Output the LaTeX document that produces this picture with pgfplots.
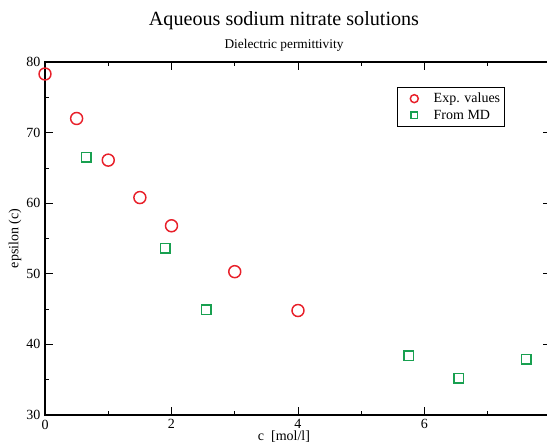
\documentclass[border=0pt]{standalone}
\usepackage{fontspec}
\setmainfont{Liberation Serif}
\usepackage{pgfplots}
\pgfplotsset{compat=1.18}
\definecolor{expred}{RGB}{232,32,42}
\definecolor{mdgreen}{RGB}{24,160,80}
\begin{document}
\begin{tikzpicture}
\begin{axis}[
  scale only axis,
  width=379.5pt, height=264.75pt,
  xmin=0, xmax=8, ymin=30, ymax=80,
  xtick={0,2,4,6,8}, minor x tick num=1,
  ytick={30,40,...,80}, minor y tick num=1,
  tick align=inside,
  major tick length=6pt, minor tick length=3pt,
  axis line style={line width=0.8pt},
  every tick/.style={black, line width=0.6pt},
  ticklabel style={font=\fontsize{10.5}{12}\selectfont},
  /pgf/number format/assume math mode=true,
  legend style={at={(0.696,0.929)}, anchor=north west, draw=black,
    line width=0.6pt, font=\fontsize{10.5}{12}\selectfont,
    inner xsep=1pt, inner ysep=2pt, row sep=0pt,
    /tikz/every odd column/.append style={column sep=6pt}},
  legend cell align=left,
  legend image code/.code={%
    \path (0pt,0pt) (17pt,0pt);
    \draw[#1] plot coordinates {(11pt,0pt)};},
]
\addplot [only marks, mark=o, mark size=4.5pt, expred, line width=1.1pt,
  legend image post style={mark size=3pt}]
coordinates {(0,78.3) (0.5,72.0) (1,66.1) (1.5,60.8) (2,56.8) (3,50.3) (4,44.8)};
\addlegendentry{Exp. values}
\addplot [only marks, mark=square, mark size=3.6pt, mdgreen, line width=1.1pt,
  legend image post style={mark size=2.5pt}]
coordinates {(0.65,66.5) (1.9,53.6) (2.55,44.9) (5.75,38.4) (6.54,35.2) (7.61,37.9)};
\addlegendentry{From MD}
\end{axis}
\node[font=\fontsize{15.1}{18}\selectfont] at (179.25pt,295.5pt) {Aqueous sodium nitrate solutions};
\node[font=\fontsize{10}{12}\selectfont] at (179.25pt,277.5pt) {Dielectric permittivity};
\node[font=\fontsize{10.5}{12}\selectfont] at (179.25pt,-16.5pt) {c\ \ [mol/l]};
\node[font=\fontsize{10.5}{12}\selectfont, rotate=90] at (-22.5pt,132.4pt) {epsilon (c)};
\pgfresetboundingbox
\useasboundingbox (-33.75pt,-24pt) rectangle (376.5pt,311.25pt);
\end{tikzpicture}
\end{document}
